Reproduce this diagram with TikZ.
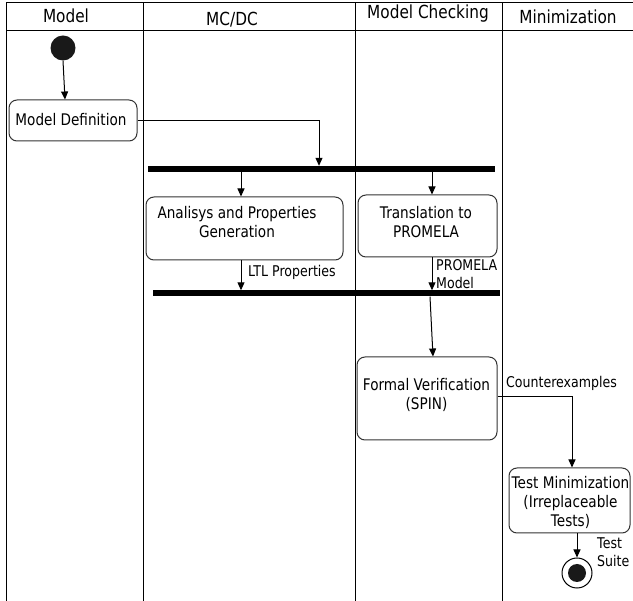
\documentclass[tikz,border=0pt]{standalone}
\usepackage{fontspec}
\setmainfont{DejaVu Sans}[FakeStretch=0.85]
\usetikzlibrary{arrows.meta,positioning}

\tikzset{
  lane/.style={line width=1pt, draw=black},
  activity/.style={draw=black!80, line width=1pt, rounded corners=8pt, inner sep=0pt},
  bartext/.style={font=\fontsize{16}{19}\selectfont, align=center, inner sep=0pt},
  lanehead/.style={font=\fontsize{18}{20}\selectfont, inner sep=0pt},
  flowlabel/.style={font=\fontsize{14.8}{18}\selectfont, align=left, inner sep=0pt, anchor=west},
  syncbar/.style={fill=black, draw=none, minimum height=6pt, inner sep=0pt},
  flow/.style={line width=1pt, -{Triangle[length=8pt,width=7pt]}},
}

\begin{document}
\begin{tikzpicture}[x=1pt, y=-1pt]
  \useasboundingbox (0,0) rectangle (633,601);

  % swimlane frame
  \draw[lane] (6,3) -- (633,3);
  \draw[lane] (6,31) -- (633,31);
  \foreach \lx in {6,143,355,502}
    \draw[lane] (\lx,3) -- (\lx,601);

  % lane headers
  \node[lanehead] (hModel) at (66,16) {Model};
  \node[lanehead] (hMCDC) at (232,20) {MC/DC};
  \node[lanehead] (hMC) at (428,14) {Model Checking};
  \node[lanehead] (hMin) at (568,17) {Minimization};

  % initial node
  \node[circle, fill=black!90, minimum size=25pt, inner sep=0pt] (start) at (63,48) {};

  % activities
  \node[activity, minimum width=128pt, minimum height=41pt] (md) at (73,120.5) {};
  \node[bartext] (mdt) at (71,120) {Model Definition};

  \node[syncbar, minimum width=347pt] (fork) at (321.5,169) {};

  \node[activity, minimum width=197pt, minimum height=63pt] (ap) at (244.5,228.5) {};
  \node[bartext] (apt) at (237,222.5) {Analisys and Properties\\Generation};

  \node[activity, minimum width=139pt, minimum height=62pt] (tp) at (427.5,226) {};
  \node[bartext] (tpt) at (426,222.5) {Translation to\\PROMELA};

  \node[syncbar, minimum width=347pt] (join) at (326.5,293.5) {};

  \node[activity, minimum width=140pt, minimum height=83pt] (fv) at (427,398.5) {};
  \node[bartext] (fvt) at (426.5,394.5) {Formal Verification\\(SPIN)};

  \node[activity, minimum width=121pt, minimum height=65pt] (tm) at (569.5,500.5) {};
  \node[bartext] (tmt) at (570.5,502.5) {Test Minimization\\(Irreplaceable\\Tests)};

  % final node
  \node[circle, draw=black, line width=1pt, minimum size=30pt, inner sep=0pt] (final) at (577,573) {};
  \node[circle, fill=black!90, minimum size=18pt, inner sep=0pt] (finalDot) at (final) {};

  % control flow
  \draw[flow] (start.south) -- ([xshift=-8pt]md.north);
  \draw[flow] (md.east) -| ([xshift=-2.5pt]fork.north);
  \draw[flow] (fork.south -| 241,0) -- (ap.north -| 241,0);
  \draw[flow] (fork.south -| 432,0) -- (tp.north -| 432,0);
  \draw[flow] (ap.south -| 241,0) -- (join.north -| 241,0);
  \draw[flow] (tp.south -| 432,0) -- (join.north -| 432,0);
  \draw[flow] (join.south -| 430,0) -- (fv.north -| 433,0);
  \draw[flow] (fv.east |- 0,397) -| (tm.north -| 572,0);
  \draw[flow] (tm.south -| 577,0) -- (final.north);

  % flow labels
  \node[flowlabel] (lLTL) at (248,272) {LTL Properties};
  \node[flowlabel] (lPM) at (436,274) {PROMELA\\Model};
  \node[flowlabel] (lCE) at (506,383) {Counterexamples};
  \node[flowlabel] (lTS) at (597,552) {Test\\Suite};
\end{tikzpicture}
\end{document}
